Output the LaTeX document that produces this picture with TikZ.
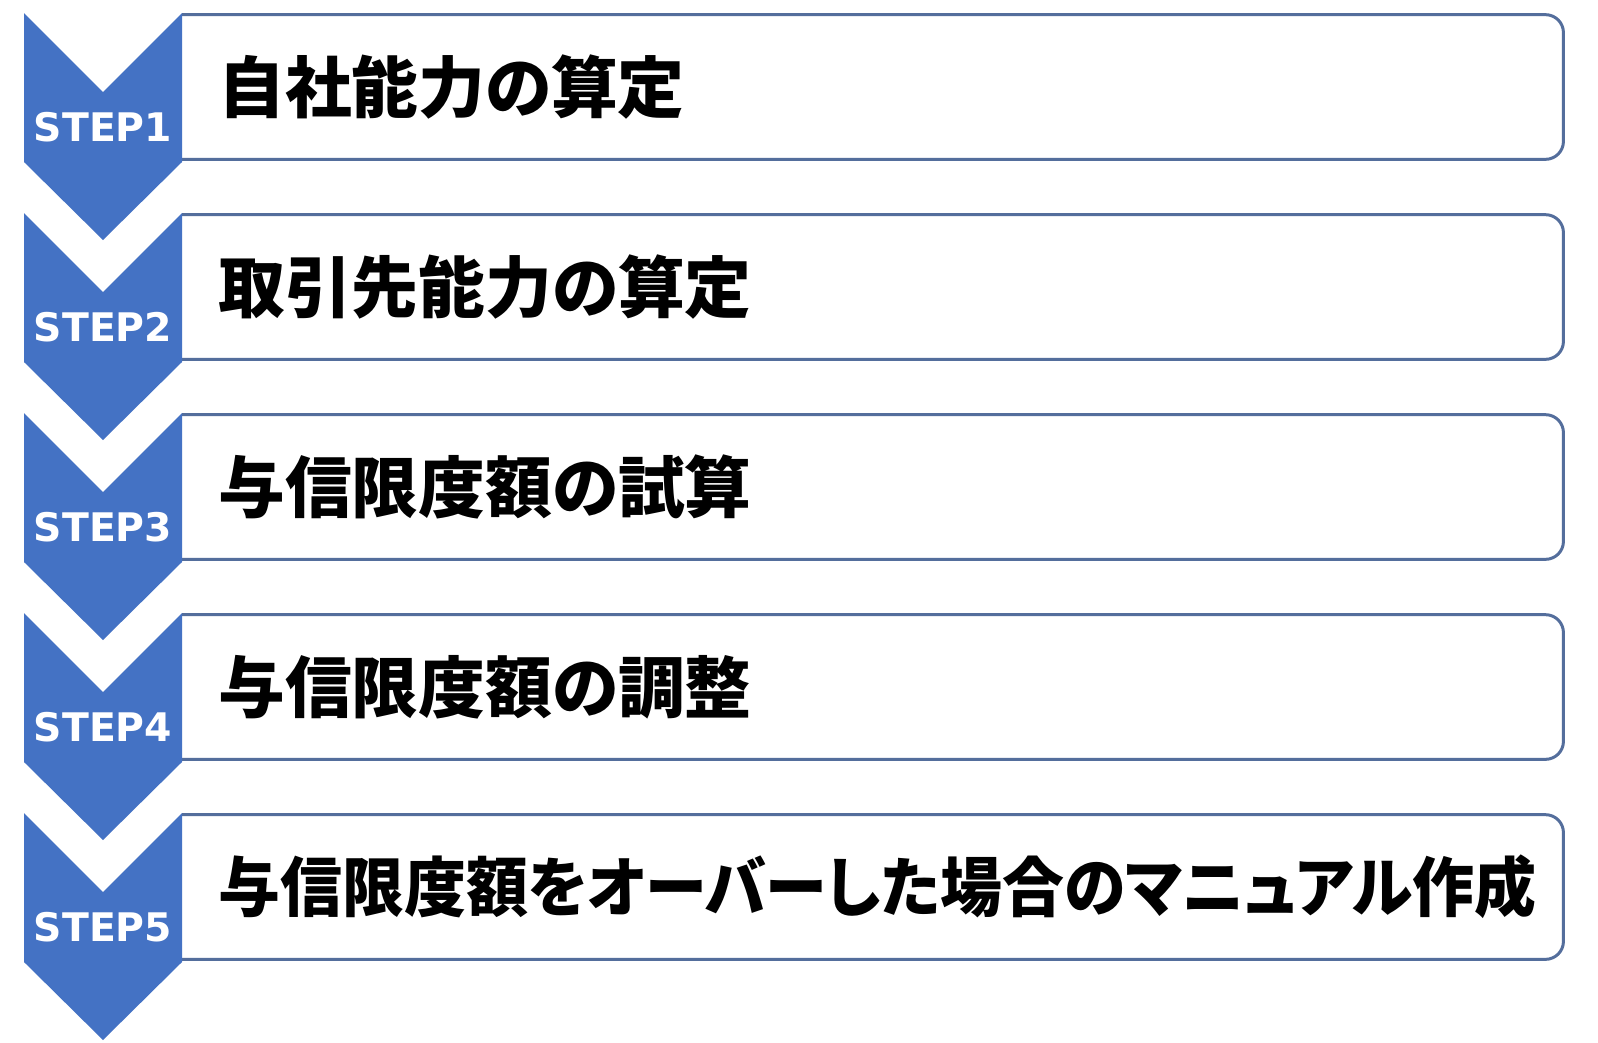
\documentclass[tikz,border=0pt]{standalone}
\usepackage{fontspec}
\setsansfont{DejaVu Sans}
\newfontfamily\jpfont{Noto Sans CJK JP}[RawFeature=+palt]
\newfontfamily\jpnarrow{Noto Sans CJK JP}[RawFeature=+palt,FakeStretch=0.953]
\usepackage{tikz}

\definecolor{stepblue}{RGB}{68,114,196}
\definecolor{boxline}{RGB}{84,110,156}

\tikzset{
  steplabel/.style={text=white,font=\sffamily\bfseries\fontsize{22.4}{26}\selectfont},
  stepbox/.style={anchor=west,minimum height=2.88cm,inner xsep=0.72cm,inner ysep=0pt,
    text width=26.18cm,align=left,font=\jpfont\bfseries\fontsize{38}{42}\selectfont},
  longbox/.style={stepbox,font=\jpnarrow\bfseries\fontsize{37}{42}\selectfont},
  boxedge/.style={draw=boxline,line width=1.7pt,rounded corners=0.36cm}
}

\begin{document}
\begin{tikzpicture}[x=0.02cm,y=-0.02cm]
\fill [white] (0,0) rectangle (1598,1042);
\useasboundingbox (0,0) rectangle (1598,1042);

% boxes
\node [stepbox] (b1) at (182,87) {自社能力の算定};
\node [stepbox] (b2) at (182,287) {取引先能力の算定};
\node [stepbox] (b3) at (182,487) {与信限度額の試算};
\node [stepbox] (b4) at (182,687) {与信限度額の調整};
\node [longbox] (b5) at (182,887) {与信限度額をオーバーした場合のマニュアル作成};

\draw [boxedge] (b1.north west) -- (b1.north east) -- (b1.south east) -- (b1.south west);
\draw [boxedge] (b2.north west) -- (b2.north east) -- (b2.south east) -- (b2.south west);
\draw [boxedge] (b3.north west) -- (b3.north east) -- (b3.south east) -- (b3.south west);
\draw [boxedge] (b4.north west) -- (b4.north east) -- (b4.south east) -- (b4.south west);
\draw [boxedge] (b5.north west) -- (b5.north east) -- (b5.south east) -- (b5.south west);

% chevrons
\fill [stepblue] (24,13) -- (103,92) -- (182,13) -- (182,162) -- (103,240) -- (24,162) -- cycle;
\fill [stepblue] (24,213) -- (103,292) -- (182,213) -- (182,362) -- (103,440) -- (24,362) -- cycle;
\fill [stepblue] (24,413) -- (103,492) -- (182,413) -- (182,562) -- (103,640) -- (24,562) -- cycle;
\fill [stepblue] (24,613) -- (103,692) -- (182,613) -- (182,762) -- (103,840) -- (24,762) -- cycle;
\fill [stepblue] (24,813) -- (103,892) -- (182,813) -- (182,962) -- (103,1040) -- (24,962) -- cycle;

\node [steplabel] (s1) at (103,127) {STEP1};
\node [steplabel] (s2) at (103,327) {STEP2};
\node [steplabel] (s3) at (103,527) {STEP3};
\node [steplabel] (s4) at (103,727) {STEP4};
\node [steplabel] (s5) at (103,927) {STEP5};
\end{tikzpicture}
\end{document}
